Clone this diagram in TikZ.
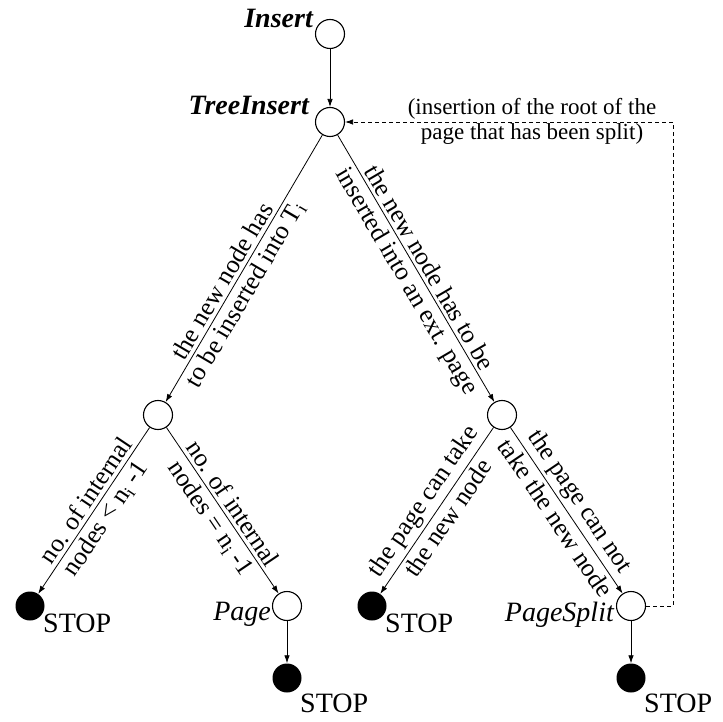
\documentclass[tikz,border=0pt]{standalone}
\usepackage{fontspec}
\setmainfont{Liberation Serif}
\usetikzlibrary{arrows.meta}

\begin{document}
\begin{tikzpicture}[x=1pt,y=-1pt,
  state/.style={circle,draw,line width=1.1pt,minimum size=29pt,inner sep=0pt},
  stopdot/.style={circle,fill,minimum size=29pt,inner sep=0pt},
  flow/.style={line width=0.8pt,-{Latex[length=8pt,width=5.5pt]}},
  back/.style={line width=0.8pt,dash pattern=on 4pt off 3pt,-{Latex[length=8pt,width=5.5pt]}},
  lbl/.style={font=\fontsize{25.5}{27}\selectfont,sloped,inner sep=3.5pt},
  procname/.style={font=\fontsize{28}{30}\selectfont\bfseries\itshape,inner sep=0pt},
  pagename/.style={font=\fontsize{28}{30}\selectfont\itshape,inner sep=0pt},
  stoptext/.style={font=\fontsize{28}{30}\selectfont,inner sep=0pt,anchor=base west},
  note/.style={font=\fontsize{23}{25}\selectfont,align=center,inner sep=0pt}]

\useasboundingbox (0,0) rectangle (723,722);

% states
\node[state]   (ins) at (330,34)  {};
\node[state]   (ti)  at (330,122) {};
\node[state]   (ln)  at (158,415) {};
\node[state]   (rn)  at (502,415) {};
\node[stopdot] (s1)  at (30,606)  {};
\node[state]   (pg)  at (287,606) {};
\node[stopdot] (s2)  at (372,606) {};
\node[state]   (ps)  at (631,606) {};
\node[stopdot] (s3)  at (287,678) {};
\node[stopdot] (s4)  at (631,678) {};

% procedure names
\node[procname,anchor=base east] (tins) at ([shift={(-17,-6)}]ins.center) {Insert};
\node[procname,anchor=base east] (tti)  at ([shift={(-21,-7)}]ti.center)  {TreeInsert};
\node[pagename,anchor=base east] (tpg)  at ([shift={(-16,14)}]pg.center)  {Page};
\node[pagename,anchor=base east] (tps)  at ([shift={(-17,15)}]ps.center)  {PageSplit};

% STOP marks
\node[stoptext] (ts1) at ([shift={(13,26)}]s1.center) {STOP};
\node[stoptext] (ts2) at ([shift={(13,26)}]s2.center) {STOP};
\node[stoptext] (ts3) at ([shift={(13,34)}]s3.center) {STOP};
\node[stoptext] (ts4) at ([shift={(13,34)}]s4.center) {STOP};

% transitions
\draw[flow] (ins) -- (ti);
\draw[flow] (ti) -- node[lbl,above,pos=.57] {the new node has}
                    node[lbl,below,pos=.57] {to be inserted into T\textsubscript{i}} (ln);
\draw[flow] (ti) -- node[lbl,above,pos=.52] {the new node has to be}
                    node[lbl,below,pos=.52] {inserted into an ext. page} (rn);
\draw[flow] (ln) -- node[lbl,above,pos=.48] {no. of internal}
                    node[lbl,below,pos=.5] {nodes < n\textsubscript{i} -1} (s1);
\draw[flow] (ln) -- node[lbl,above,pos=.5] {no. of internal}
                    node[lbl,below,pos=.5] {nodes = n\textsubscript{i} -1} (pg);
\draw[flow] (rn) -- node[lbl,above,pos=.5] {the page can take}
                    node[lbl,below,pos=.5] {the new node} (s2);
\draw[flow] (rn) -- node[lbl,above,pos=.5] {the page can not}
                    node[lbl,below,pos=.5] {take the new node} (ps);
\draw[flow] (pg) -- (s3);
\draw[flow] (ps) -- (s4);

% return after a split
\coordinate (dtop) at (673,122);
\draw[back] (ps.east) -| (dtop) -- (ti.east);
\node[note] (nt) at (532,121) {(insertion of the root of the\\page that has been split)};

\end{tikzpicture}
\end{document}
